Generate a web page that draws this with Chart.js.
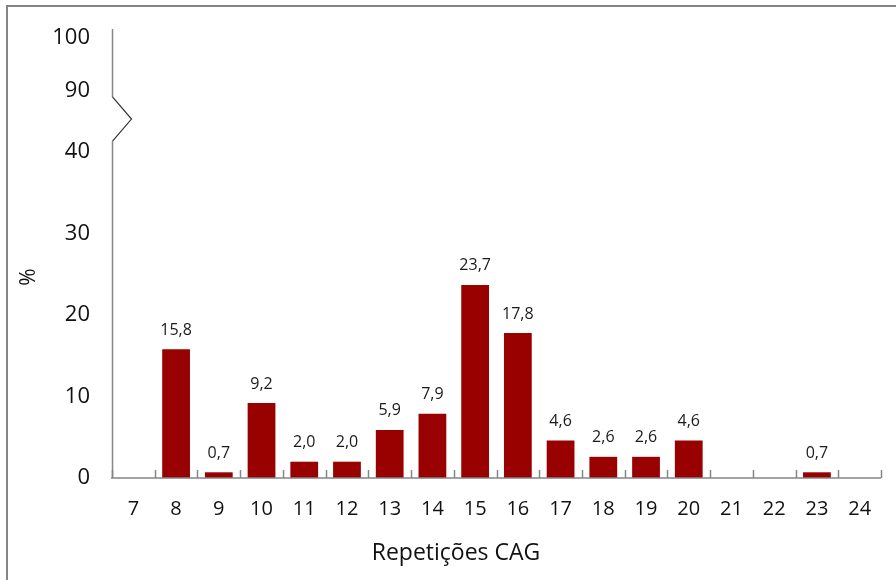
<!DOCTYPE html>
<html>
<head>
<meta charset="utf-8">
<script src="https://cdn.jsdelivr.net/npm/chart.js@4/dist/chart.umd.min.js"></script>
<style>
  html, body { margin: 0; padding: 0; background: #fff; }
  #wrap { width: 896px; height: 580px; position: relative; }
</style>
</head>
<body>
<div id="wrap"><canvas id="c" width="896" height="580"></canvas></div>
<script>
// Number of CAG repeats and the share (%) of alleles for each
const repeats = ['7','8','9','10','11','12','13','14','15','16','17','18','19','20','21','22','23','24'];
const percent = [null, 15.8, 0.7, 9.2, 2.0, 2.0, 5.9, 7.9, 23.7, 17.8, 4.6, 2.6, 2.6, 4.6, null, null, 0.7, null];
const yTicks = [0, 10, 20, 30, 40, 90, 100];
const xTitle = 'Repetições CAG';
const yTitle = '%';

const FONT = '"Open Sans", "Liberation Sans", sans-serif';
const AXIS_GREY = '#858585';

// Broken value axis: 0–40 at full scale, 40–90 squeezed, 90–100 slightly compressed
function squeeze(v) {
  if (v <= 40) return v;
  if (v <= 90) return 40 + (v - 40) * 7.5 / 50;
  return 47.5 + (v - 90) * 0.65;
}
function unsqueeze(c) {
  if (c <= 40) return c;
  if (c <= 47.5) return 40 + (c - 40) * 50 / 7.5;
  return 90 + (c - 47.5) / 0.65;
}
class BrokenLinearScale extends Chart.LinearScale {
  getPixelForValue(value) {
    if (value === null || value === undefined || isNaN(value)) return NaN;
    return this.getPixelForDecimal(squeeze(value) / squeeze(this.max));
  }
  getValueForPixel(pixel) {
    return unsqueeze(this.getDecimalForPixel(pixel) * squeeze(this.max));
  }
}
BrokenLinearScale.id = 'brokenLinear';
BrokenLinearScale.defaults = Chart.LinearScale.defaults;
Chart.register(BrokenLinearScale);

// Frame, axis lines with break mark, inward tick marks, value labels and axis titles
const decorations = {
  id: 'decorations',
  beforeDraw(chart) {
    const ctx = chart.ctx;
    ctx.save();
    ctx.fillStyle = '#fff';
    ctx.fillRect(0, 0, chart.width, chart.height);
    ctx.strokeStyle = AXIS_GREY;
    ctx.lineWidth = 2;
    ctx.strokeRect(7, 6, chart.width + 20, chart.height + 20);
    ctx.restore();
  },
  afterDatasetsDraw(chart) {
    const ctx = chart.ctx;
    const xs = chart.scales.x, ys = chart.scales.y;
    const area = chart.chartArea;
    const ax = Math.round(area.left) + 0.5;
    const base = ys.getPixelForValue(0);
    ctx.save();
    ctx.strokeStyle = AXIS_GREY;
    ctx.lineWidth = 1.5;
    // x axis line
    ctx.beginPath();
    ctx.moveTo(area.left - 1, base);
    ctx.lineTo(area.right, base);
    ctx.stroke();
    // tick marks at category boundaries, pointing into the plot
    for (let i = 0; i <= repeats.length; i++) {
      const x = Math.round(xs.getPixelForValue(i - 0.5)) + 0.5;
      ctx.beginPath();
      ctx.moveTo(x, base);
      ctx.lineTo(x, base - 8);
      ctx.stroke();
    }
    // y axis line with zigzag break between 40 and 90
    const yTop = ys.getPixelForValue(100) - 9;
    const yBreakTop = ys.getPixelForValue(90) + 6;
    const yBreakBot = ys.getPixelForValue(40) - 11;
    ctx.beginPath();
    ctx.moveTo(ax, yTop);
    ctx.lineTo(ax, yBreakTop);
    ctx.stroke();
    ctx.beginPath();
    ctx.strokeStyle = '#333';
    ctx.lineWidth = 1.2;
    ctx.moveTo(ax, yBreakTop);
    ctx.lineTo(ax + 19, (yBreakTop + yBreakBot) / 2);
    ctx.lineTo(ax, yBreakBot);
    ctx.stroke();
    ctx.beginPath();
    ctx.strokeStyle = AXIS_GREY;
    ctx.lineWidth = 1.5;
    ctx.moveTo(ax, yBreakBot);
    ctx.lineTo(ax, base);
    ctx.stroke();

    // value labels above bars
    const meta = chart.getDatasetMeta(0);
    ctx.fillStyle = '#1a1a1a';
    ctx.font = '16px ' + FONT;
    ctx.textAlign = 'center';
    ctx.textBaseline = 'middle';
    meta.data.forEach((bar, i) => {
      const v = percent[i];
      if (v === null) return;
      ctx.fillText(v.toFixed(1).replace('.', ','), bar.x, bar.y - 19);
    });

    // axis titles
    ctx.font = '23px ' + FONT;
    ctx.fillStyle = '#111';
    ctx.fillText(xTitle, 456, 553);
    ctx.font = '21px ' + FONT;
    ctx.translate(29, 277);
    ctx.rotate(-Math.PI / 2);
    ctx.fillText(yTitle, 0, 0);
    ctx.restore();
  }
};

new Chart(document.getElementById('c'), {
  type: 'bar',
  data: {
    labels: repeats,
    datasets: [{
      data: percent,
      backgroundColor: '#990000',
      borderWidth: 0,
      barPercentage: 0.65,
      categoryPercentage: 1.0
    }]
  },
  options: {
    responsive: false,
    animation: false,
    events: [],
    layout: { padding: { left: 0, right: 15, top: 38, bottom: 0 } },
    plugins: { legend: { display: false }, tooltip: { enabled: false } },
    scales: {
      x: {
        type: 'category',
        grid: { display: false, drawTicks: false },
        border: { display: false },
        ticks: { color: '#111', font: { family: FONT, size: 20 }, padding: 19, maxRotation: 0, autoSkip: false },
        afterFit(s) { s.height = 102; }
      },
      y: {
        type: 'brokenLinear',
        min: 0,
        max: 100,
        grid: { display: false, drawTicks: false },
        border: { display: false },
        afterBuildTicks(s) { s.ticks = yTicks.map(v => ({ value: v })); },
        ticks: { color: '#111', font: { family: FONT, size: 22 }, padding: 22 },
        afterFit(s) { s.width = 112; }
      }
    }
  },
  plugins: [decorations]
});
</script>
</body>
</html>
